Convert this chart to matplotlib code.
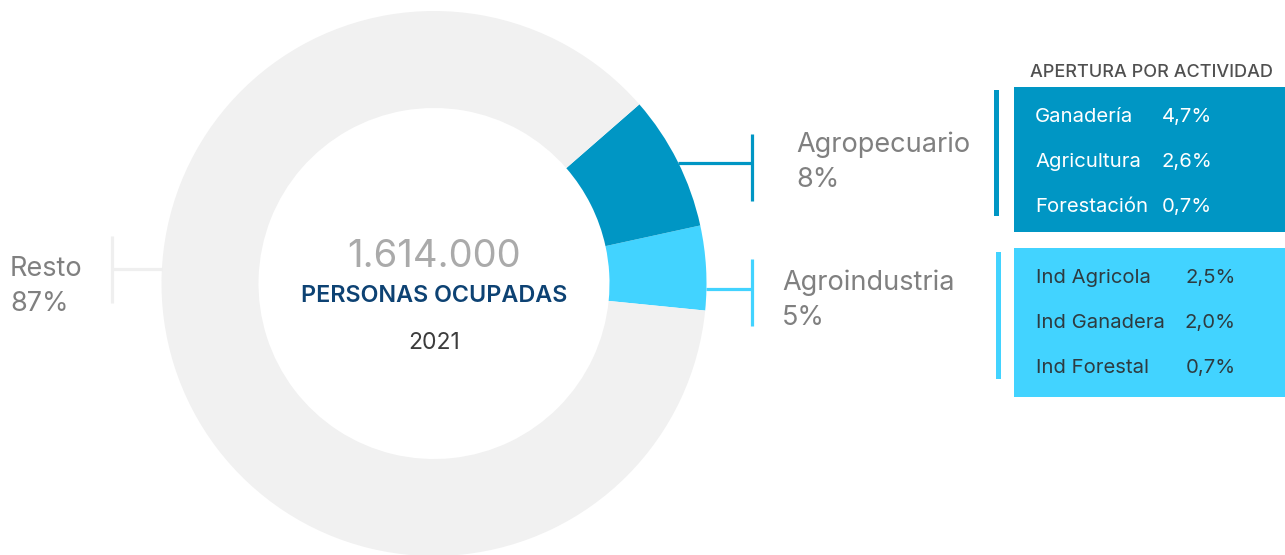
import matplotlib.pyplot as plt
from matplotlib.patches import Rectangle

# --- DATA ---
sectores = ["Agroindustria", "Agropecuario", "Resto"]
participacion = [5, 8, 87]
total_ocupados = "1.614.000"
anio = "2021"

actividades_agro = ["Ganadería", "Agricultura", "Forestación"]
valores_agro = ["4,7%", "2,6%", "0,7%"]
actividades_ind = ["Ind Agricola", "Ind Ganadera", "Ind Forestal"]
valores_ind = ["2,5%", "2,0%", "0,7%"]

# --- STYLE ---
AZUL = "#0096C4"
CELESTE = "#42D3FF"
GRIS_ANILLO = "#F1F1F1"
GRIS_TXT = "#808080"
NAVY = "#0D4273"
W, H = 1285, 555
plt.rcParams['font.family'] = ['Inter', 'DejaVu Sans']


def py(y):
    # coordenadas en pixeles desde arriba
    return H - y


fig = plt.figure(figsize=(W / 100, H / 100), dpi=100)
ax = fig.add_axes([0, 0, 1, 1])

# --- DONUT ---
cx, cy, r = 434, 283.5, 272.5
ax.pie(participacion, colors=[CELESTE, AZUL, GRIS_ANILLO], radius=r,
       center=(cx, py(cy)), startangle=-5.7, counterclock=True,
       wedgeprops=dict(width=97, linewidth=0))
ax.set_xlim(0, W)
ax.set_ylim(0, H)
ax.set_aspect('equal')
ax.axis('off')

# texto central
ax.text(cx, py(267), total_ocupados, ha='center', va='baseline',
        fontsize=27.5, color="#AAAAAA")
ax.text(cx, py(302), "PERSONAS OCUPADAS", ha='center', va='baseline',
        fontsize=16.8, color=NAVY, fontweight='semibold')
ax.text(cx, py(349), anio, ha='center', va='baseline',
        fontsize=16.5, color="#3C3C3C")

# --- LEADERS + ETIQUETAS ---
lw = 2.3
# Agropecuario
ax.plot([678, 752], [py(163), py(163)], color=AZUL, lw=lw, solid_capstyle='butt')
ax.plot([752, 752], [py(134), py(201)], color=AZUL, lw=lw, solid_capstyle='butt')
ax.text(796, py(152), sectores[1], fontsize=19.5, color=GRIS_TXT, va='baseline')
ax.text(796, py(187), f"{participacion[1]}%", fontsize=19.5, color=GRIS_TXT, va='baseline')
# Agroindustria
ax.plot([706, 752], [py(289), py(289)], color=CELESTE, lw=lw, solid_capstyle='butt')
ax.plot([752, 752], [py(259), py(326)], color=CELESTE, lw=lw, solid_capstyle='butt')
ax.text(782, py(290), sectores[0], fontsize=19.5, color=GRIS_TXT, va='baseline')
ax.text(782, py(325), f"{participacion[0]}%", fontsize=19.5, color=GRIS_TXT, va='baseline')
# Resto
ax.plot([112, 162], [py(269), py(269)], color="#EFEFEF", lw=lw, solid_capstyle='butt')
ax.plot([112, 112], [py(236), py(303)], color="#EFEFEF", lw=lw, solid_capstyle='butt')
ax.text(10, py(276), sectores[2], fontsize=19.5, color=GRIS_TXT, va='baseline')
ax.text(10, py(311), f"{participacion[2]}%", fontsize=19.5, color=GRIS_TXT, va='baseline')

# --- APERTURA POR ACTIVIDAD ---
ax.text(1152, py(77), "APERTURA POR ACTIVIDAD", ha='center', va='baseline',
        fontsize=13, color="#505050", fontweight='medium')

ax.add_patch(Rectangle((1014, py(232)), W - 1014, 232 - 87, color=AZUL, lw=0))
ax.add_patch(Rectangle((993.5, py(216)), 5, 216 - 90, color=AZUL, lw=0))
for i, (nombre, val) in enumerate(zip(actividades_agro, valores_agro)):
    yb = 122 + 45 * i
    ax.text(1035, py(yb), nombre, fontsize=14.6, color="white", va='baseline')
    ax.text(1212, py(yb), val, fontsize=14.6, color="white", va='baseline', ha='right')

ax.add_patch(Rectangle((1014, py(397)), W - 1014, 397 - 248, color=CELESTE, lw=0))
ax.add_patch(Rectangle((995.5, py(379)), 5, 379 - 252, color=CELESTE, lw=0))
for i, (nombre, val) in enumerate(zip(actividades_ind, valores_ind)):
    yb = 283 + 45 * i
    ax.text(1036, py(yb), nombre, fontsize=14.6, color="#2E3B40", va='baseline')
    ax.text(1236, py(yb), val, fontsize=14.6, color="#2E3B40", va='baseline', ha='right')

fig.savefig("out.png", dpi=100)
